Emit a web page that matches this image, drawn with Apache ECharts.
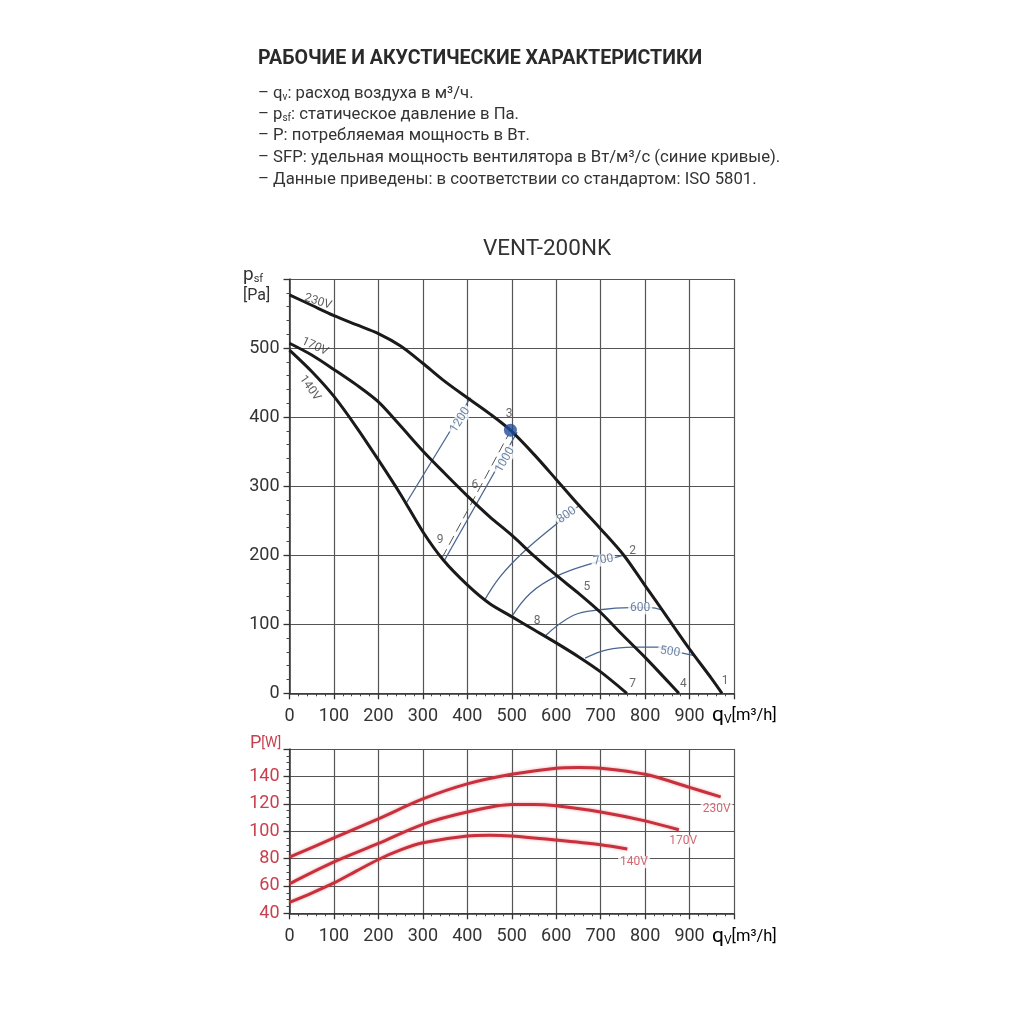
<!DOCTYPE html>
<html><head><meta charset="utf-8">
<script src="https://cdn.jsdelivr.net/npm/echarts@6/dist/echarts.min.js"></script>
<style>html,body{margin:0;padding:0;background:#fff}#c{width:1020px;height:1020px}</style>
</head><body><div id="c"></div>
<script>
// ---- data ----
const fan230 = [[0,577],[50,562],[100,547],[150,534],[200,521],[250,503],[300,478],[345,454],[400,428],[450,405],[497,381],[550,346],[601,309],[650,273],[700,238],[752,200],[800,156],[850,110],[900,64],[950,21],[973,0]];
const fan170 = [[0,507],[50,490],[100,469],[150,447],[200,422],[250,387],[300,351],[350,318],[400,286],[450,256],[500,229],[550,199],[600,171],[650,145],[700,117],[750,84],[800,52],[850,18],[876,0]];
const fan140 = [[0,497],[50,466],[100,430],[150,386],[200,338],[250,288],[300,234],[346,193],[400,157],[450,130],[500,111],[550,92],[600,73],[650,53],[700,31],[759,0]];
const sfp1200 = [[263,276],[407,428]];
const sfp1000 = [[349,193],[512,378]];
const system369 = [[343,196],[492,374]];
const sfp800 = [[438,134],[474,169],[527,205],[602,246],[654,273]];
const sfp700 = [[500,111],[542,145],[602,170],[684,189],[728,196],[752,200]];
const sfp600 = [[575,83],[639,113],[699,121],[767,124],[812,124],[836,121]];
const sfp500 = [[665,51],[714,63],[774,67],[834,67],[879,59],[908,55]];
const opPoint = [[497,381]];
const pow230 = [[0,81],[100,95],[200,109],[300,123.5],[400,134.5],[500,141.5],[600,146],[650,146.5],[700,146],[800,141.5],[900,132],[970,125]];
const pow170 = [[0,61.5],[100,77.5],[200,91],[300,105],[400,114],[500,119.5],[550,119.5],[600,118.5],[700,114],[800,107.5],[876,101]];
const pow140 = [[0,48],[50,54.8],[100,62.2],[150,70.8],[200,79.3],[250,86.3],[300,91.5],[400,96.5],[450,97],[500,96.5],[600,93.5],[700,90],[760,87]];
const sfpNames = ['1200','1000','800','700','600','500'];
const sfpNameAt = [[384,396],[485,338],[624,258],[706,193],[789,123],[856,60]];
const pointNames = ['1','2','3','4','5','6','7','8','9'];
const pointNameAt = [[980,18],[772,206],[494,404],[886,13],[669,154],[417,302],[772,13],[557,105],[339,222]];
const voltNames = ['230V','170V','140V'];
const voltNameAt = [[64,567],[57,502],[46,442]];
const powNameAt = [[961,116],[885.5,92.5],[775,77.3]];
const qTickMax = 1000;

// ---- styles ----
const sfpRot = [58,60,35,10,0,-8];
const voltRot = [-18,-25,-55];
const FONT = 'Roboto';
const TXT = '#333';
const RED = '#c8303c';
const BLUE = '#4a6690';

function axisCommon(extra){
  return Object.assign({
    type:'value',
    axisLine:{show:true,lineStyle:{color:'#333',width:1.5}},
    axisTick:{show:true,length:6,lineStyle:{color:'#333',width:1.3}},
    splitLine:{show:true,lineStyle:{color:'#555',width:1.2}}
  },extra);
}
function hideMax(max){return v=> v===max?'':String(v);}

function labelSeries(names, at, rots, opts){
  return Object.assign({
    type:'scatter', symbolSize:1, silent:true,
    itemStyle:{color:'rgba(0,0,0,0)'},
    data: names.map((n,i)=>({value:at[i], label:{show:true, position:'inside', formatter:n, rotate: rots?rots[i]:0}})),
    z:5
  },opts);
}
function curve(d, xi, color, width, extra){
  return Object.assign({type:'line',xAxisIndex:xi,yAxisIndex:xi,data:d,smooth:0.3,symbol:'none',lineStyle:{color:color,width:width},z:3},extra||{});
}

const series = [
  curve(fan230,0,'#1a1a1a',3),
  curve(fan170,0,'#1a1a1a',3),
  curve(fan140,0,'#1a1a1a',3),
  {type:'line',xAxisIndex:0,yAxisIndex:0,data:system369,symbol:'none',lineStyle:{color:'#555',width:1,type:[10,5]},z:2},
];
[sfp1200,sfp1000,sfp800,sfp700,sfp600,sfp500].forEach(d=>{
  series.push(curve(d,0,BLUE,1.3,{smooth:0.4,z:2}));
});
series.push({type:'scatter',xAxisIndex:0,yAxisIndex:0,data:opPoint,symbolSize:13,itemStyle:{color:'#1f4e9a'},z:6});
series.push(labelSeries(sfpNames,sfpNameAt,sfpRot,{xAxisIndex:0,yAxisIndex:0,label:{show:true,fontFamily:FONT,fontSize:12,color:BLUE,backgroundColor:'#fff',padding:[0,2]}}));
series.push(labelSeries(pointNames,pointNameAt,null,{xAxisIndex:0,yAxisIndex:0,label:{show:true,fontFamily:FONT,fontSize:12,color:'#444'}}));
series.push(labelSeries(voltNames,voltNameAt,voltRot,{xAxisIndex:0,yAxisIndex:0,label:{show:true,fontFamily:FONT,fontSize:12,color:'#333'}}));
[pow230,pow170,pow140].forEach(d=>{
  series.push(curve(d,1,RED,3,{lineStyle:{color:RED,width:3,shadowColor:'rgba(200,48,60,0.45)',shadowBlur:3}}));
});
series.push(labelSeries(voltNames,powNameAt,null,{xAxisIndex:1,yAxisIndex:1,label:{show:true,fontFamily:FONT,fontSize:12,color:'#c8404e',backgroundColor:'#fff',padding:[0,2]}}));

const qvRich = {q:{fontFamily:FONT,fontSize:21,color:TXT},s:{fontFamily:FONT,fontSize:12,color:TXT,verticalAlign:'bottom',padding:[9,0,0,0]},u:{fontFamily:FONT,fontSize:16.5,color:TXT}};
const subRich = {s:{fontSize:10,fontFamily:FONT,fill:TXT,verticalAlign:'bottom',padding:[7,0,0,0]}};
const BODY = '16.7px Roboto';

const xAxisOpts = gi => axisCommon({gridIndex:gi,min:0,max:qTickMax,interval:100,
  minorTick:{show:true,splitNumber:5,length:3,lineStyle:{color:'#444'}},
  axisLabel:{color:TXT,fontFamily:FONT,fontSize:18,margin:14,formatter:hideMax(qTickMax)}});

const option = {
  animation:false,
  backgroundColor:'#fff',
  grid:[
    {left:289.5,top:279,width:444.5,height:414.3,outerBoundsMode:'none',containLabel:false},
    {left:289.5,top:749,width:444.5,height:164.3,outerBoundsMode:'none',containLabel:false}
  ],
  xAxis:[xAxisOpts(0), xAxisOpts(1)],
  yAxis:[
    axisCommon({gridIndex:0,min:0,max:600,interval:100,minorTick:{show:true,splitNumber:5,length:3,lineStyle:{color:'#444'}},axisLabel:{color:TXT,fontFamily:FONT,fontSize:18,margin:10,formatter:hideMax(600)}}),
    axisCommon({gridIndex:1,min:40,max:160,interval:20,minorTick:{show:true,splitNumber:4,length:3,lineStyle:{color:'#444'}},axisLabel:{color:'#c8404e',fontFamily:FONT,fontSize:18,margin:10,formatter:hideMax(160)}})
  ],
  graphic:[
    {type:'text',left:258,top:49,style:{text:'РАБОЧИЕ И АКУСТИЧЕСКИЕ ХАРАКТЕРИСТИКИ',font:'bold 19.6px Roboto',fill:'#2a2a2a'}},
    {type:'text',left:258,top:85,style:{text:'– q{s|v}: расход воздуха в м³/ч.',font:BODY,fill:TXT,rich:subRich}},
    {type:'text',left:258,top:106,style:{text:'– p{s|sf}: статическое давление в Па.',font:BODY,fill:TXT,rich:subRich}},
    {type:'text',left:258,top:127,style:{text:'– P: потребляемая мощность в Вт.',font:BODY,fill:TXT}},
    {type:'text',left:258,top:149,style:{text:'– SFP: удельная мощность вентилятора в Вт/м³/с (синие кривые).',font:BODY,fill:TXT}},
    {type:'text',left:258,top:171,style:{text:'– Данные приведены: в соответствии со стандартом: ISO 5801.',font:BODY,fill:TXT}},
    {type:'text',left:483,top:238,style:{text:'VENT-200NK',font:'22.5px Roboto',fill:TXT}},
    {type:'text',left:243,top:266,style:{text:'p{s|sf}',font:'19px Roboto',fill:TXT,rich:{s:{fontSize:11,fontFamily:FONT,fill:TXT,verticalAlign:'bottom',padding:[8,0,0,0]}}}},
    {type:'text',left:243,top:288,style:{text:'[Pa]',font:'16px Roboto',fill:TXT}},
    {type:'text',left:250,top:734,style:{text:'P{w|[W]}',font:'18px Roboto',fill:'#c8404e',rich:{w:{fontSize:14,fontFamily:FONT,fill:'#c8404e'}}}},
    {type:'text',left:712,top:705,style:{text:'{q|q}{s|V}{u|[m³/h]}',rich:qvRich}},
    {type:'text',left:712,top:926,style:{text:'{q|q}{s|V}{u|[m³/h]}',rich:qvRich}}
  ],
  series:series
};
const chart = echarts.init(document.getElementById('c'),null,{renderer:'canvas'});
chart.setOption(option);
</script></body></html>
